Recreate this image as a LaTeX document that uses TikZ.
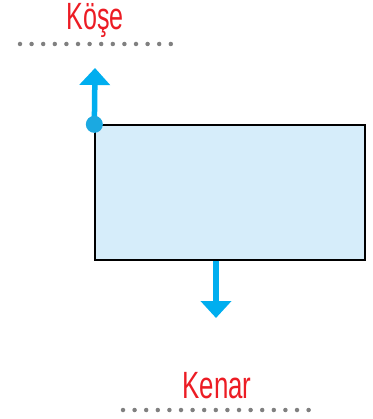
\documentclass[tikz,border=0pt]{standalone}
\usepackage{fontspec}
\setmainfont{Liberation Sans}
\usetikzlibrary{arrows.meta}
\definecolor{labelred}{HTML}{EC1C24}
\definecolor{arrowblue}{HTML}{00AEEF}
\definecolor{dotblue}{HTML}{1BA9E1}
\definecolor{boxfill}{HTML}{D6EDFA}
\definecolor{dotgray}{HTML}{808080}

\begin{document}
\begin{tikzpicture}[
    x=1pt, y=-1pt,
    word/.style={text=labelred, font=\fontsize{38}{40}\selectfont, inner sep=0pt},
    dotline/.style={dotgray, line width=4.5pt, line cap=round, dash pattern=on 0pt off 11.6pt},
    rectbox/.style={draw=black, line width=1.3pt, fill=boxfill, minimum width=270pt, minimum height=135pt, inner sep=0pt},
    arrow/.style={arrowblue, line width=5.5pt, -{Triangle[length=17pt,width=30pt]}}
  ]
    \useasboundingbox (0,0) rectangle (372,419);

    % Labels and dotted lines
    \node[word] (kose) at (95,20) {\scalebox{0.66}[1]{Köşe}};
    \node[word] (kenar) at (217,386) {\scalebox{0.68}[1]{Kenar}};
    \coordinate (kl) at (20,44);
    \coordinate (kr) at (173,44);
    \coordinate (nl) at (123,410);
    \coordinate (nr) at (313,410);
    \draw[dotline] (kl) -- (kr);
    \draw[dotline] (nl) -- (nr);

    % Rectangle
    \node[rectbox] (rect) at (230,192.5) {};

    % Arrows
    \coordinate (uptip) at (95,68);
    \coordinate (downtip) at (216,318);
    \draw[arrow] (rect.north west) -- (uptip);
    \draw[arrow] (rect.south -| downtip) -- (downtip);
    \fill[dotblue] (rect.north west) circle (8.5pt);
  \end{tikzpicture}
\end{document}
